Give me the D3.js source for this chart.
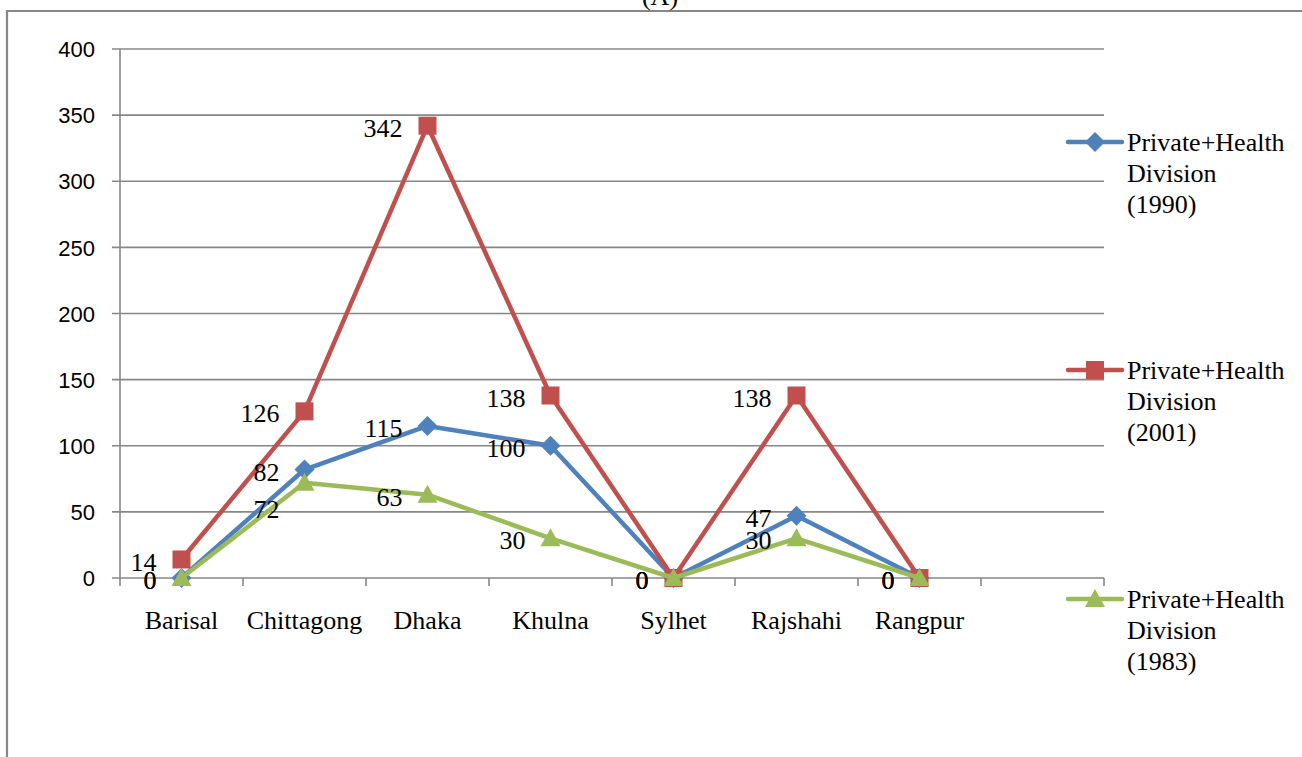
<!DOCTYPE html>
<html><head><meta charset="utf-8">
<script src="https://cdn.jsdelivr.net/npm/d3@7"></script>
<style>body{margin:0;background:#fff;}svg{display:block;}</style>
</head><body>
<svg id="c" width="1302" height="757"></svg>
<script>
const categories = ["Barisal","Chittagong","Dhaka","Khulna","Sylhet","Rajshahi","Rangpur"];
const seriesNames = ["Private+Health Division (1990)","Private+Health Division (2001)","Private+Health Division (1983)"];
const values1990 = [0,82,115,100,0,47,0];
const values2001 = [14,126,342,138,0,138,0];
const values1983 = [0,72,63,30,0,30,0];
const yTicks = [0,50,100,150,200,250,300,350,400];
const title = "(A)";

(function(){
const colors = ["#4F81BD","#C0504D","#9BBB59"];
const shapes = ["diamond","square","triangle"];
const series = [values1990, values2001, values1983].map((v,i)=>({name:seriesNames[i], values:v, color:colors[i], shape:shapes[i]}));

const svg = d3.select("#c");
const pLeft = 120, pRight = 1104, pTop = 49, pBottom = 578;
const slots = categories.length + 1;
const bw = (pRight-pLeft)/slots;
const x = d3.scaleBand().domain(categories).range([pLeft, pLeft + bw*categories.length]);
const y = d3.scaleLinear().domain([0,400]).range([pBottom, pTop]);
const grey = "#878787";

// outer border
svg.append("path").attr("d","M7,757 V11 H1302").attr("fill","none").attr("stroke",grey).attr("stroke-width",2.2);

// title
svg.append("text").attr("x",660).attr("y",5).attr("text-anchor","middle")
  .attr("font-family","Liberation Serif, Times New Roman, serif").attr("font-size",26).text(title);

// gridlines
svg.append("g").selectAll("line").data(yTicks).join("line")
  .attr("x1",pLeft-8).attr("x2",pRight).attr("y1",d=>y(d)).attr("y2",d=>y(d))
  .attr("stroke",grey).attr("stroke-width",1.6);

// y axis
const yAxis = d3.axisLeft(y).tickValues(yTicks).tickSize(0).tickPadding(0);
const gy = svg.append("g").attr("transform",`translate(${pLeft},0)`).call(yAxis);
gy.select(".domain").remove();
gy.selectAll("text").attr("x",-25).attr("dy","0.35em")
  .attr("font-family","Liberation Sans, Arial, sans-serif").attr("font-size",22).attr("fill","#000");
svg.append("line").attr("x1",pLeft).attr("x2",pLeft).attr("y1",pTop).attr("y2",pBottom)
  .attr("stroke",grey).attr("stroke-width",1.6);

// x axis
const bounds = d3.range(slots+1).map(i=>pLeft+i*bw);
svg.append("g").selectAll("line").data(bounds).join("line")
  .attr("x1",d=>d).attr("x2",d=>d).attr("y1",pBottom).attr("y2",pBottom+8)
  .attr("stroke",grey).attr("stroke-width",1.6);
const xAxis = d3.axisBottom(x).tickSize(0).tickPadding(0);
const gx = svg.append("g").attr("transform",`translate(0,${pBottom})`).call(xAxis);
gx.select(".domain").remove();
gx.selectAll("text").attr("y",42).attr("dy","0.35em")
  .attr("font-family","Liberation Serif, Times New Roman, serif").attr("font-size",26).attr("fill","#000");

// lines
const cx = c => x(c) + x.bandwidth()/2;
const line = d3.line().x((d,i)=>cx(categories[i])).y(d=>y(d));
function marker(g, shape, color){
  if(shape==="diamond") g.append("path").attr("d","M0,-10 L10,0 L0,10 L-10,0Z").attr("fill",color);
  else if(shape==="square") g.append("rect").attr("x",-9).attr("y",-9).attr("width",18).attr("height",18).attr("fill",color);
  else g.append("path").attr("d","M0,-10 L10,8 L-10,8Z").attr("fill",color);
}
series.forEach(s=>{
  svg.append("path").datum(s.values).attr("d",line).attr("fill","none")
    .attr("stroke",s.color).attr("stroke-width",4.5).attr("stroke-linejoin","round");
  s.values.forEach((v,i)=>{
    const g = svg.append("g").attr("transform",`translate(${cx(categories[i])},${y(v)})`);
    marker(g, s.shape, s.color);
  });
});

// data labels
const labelShift = {"2|1": 24};
series.forEach((s,si)=>{
  s.values.forEach((v,i)=>{
    const dy = 2 + (labelShift[si+"|"+i]||0);
    svg.append("text").attr("x",cx(categories[i])-25).attr("y",y(v)+dy).attr("dy","0.35em")
      .attr("text-anchor","end").attr("font-family","Liberation Serif, Times New Roman, serif")
      .attr("font-size",26).attr("fill","#000").text(v);
  });
});

// legend
const legendY = [142,370,599];
series.forEach((s,i)=>{
  const g = svg.append("g").attr("transform",`translate(0,${legendY[i]})`);
  g.append("line").attr("x1",1068).attr("x2",1122).attr("y1",0).attr("y2",0)
    .attr("stroke",s.color).attr("stroke-width",4.5).attr("stroke-linecap","round");
  const m = g.append("g").attr("transform","translate(1095,0)");
  marker(m, s.shape, s.color);
  const words = s.name.split(" ");
  const t = g.append("text").attr("font-family","Liberation Serif, Times New Roman, serif")
    .attr("font-size",26).attr("fill","#000");
  words.forEach((w,k)=>t.append("tspan").attr("x",1127).attr("y",k*31).attr("dy","0.35em").text(w));
});
})();
</script>
</body></html>
